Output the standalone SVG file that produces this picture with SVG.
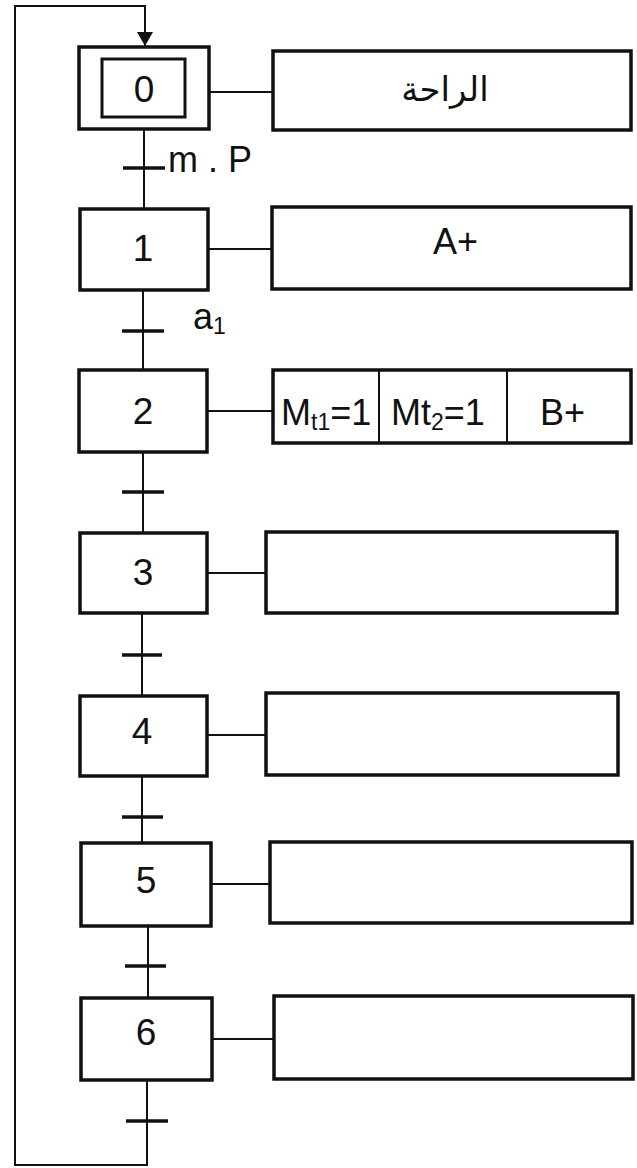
<svg xmlns="http://www.w3.org/2000/svg" width="637" height="1168" viewBox="0 0 637 1168">
<style>
.step{fill:#fff;stroke:#111;stroke-width:3.5}
.act{fill:#fff;stroke:#111;stroke-width:3.5}
.ln{fill:none;stroke:#111;stroke-width:2}
.tr{stroke:#111;stroke-width:3.5}
.num{font-family:"Liberation Sans",Arial,sans-serif;font-size:37px;fill:#111;text-anchor:middle}
.lbl{font-family:"Liberation Sans",Arial,sans-serif;font-size:36px;fill:#111}
.ar{font-family:"DejaVu Sans",sans-serif;font-size:34px;fill:#111;text-anchor:middle}
</style>
<defs>
<marker id="arr" viewBox="0 0 14 16" refX="14" refY="8" markerWidth="14" markerHeight="16" markerUnits="userSpaceOnUse" orient="auto">
<path d="M0,0 L14,8 L0,16 Z" fill="#111"/>
</marker>
</defs>
<rect width="637" height="1168" fill="#fff"/>
<g id="connectors">
<path class="ln" d="M147,1080 V1165 H15 V6 H145 V46" marker-end="url(#arr)"/>
<line class="ln" x1="144" y1="129" x2="144" y2="209"/>
<line class="ln" x1="143" y1="290" x2="143" y2="370"/>
<line class="ln" x1="143" y1="452" x2="143" y2="533"/>
<line class="ln" x1="142" y1="613" x2="142" y2="696"/>
<line class="ln" x1="142" y1="776" x2="142" y2="843"/>
<line class="ln" x1="148" y1="926" x2="148" y2="998"/>
<line class="ln" x1="209" y1="92" x2="273" y2="92"/>
<line class="ln" x1="208" y1="249" x2="272" y2="249"/>
<line class="ln" x1="207" y1="411" x2="273" y2="411"/>
<line class="ln" x1="207" y1="573" x2="266" y2="573"/>
<line class="ln" x1="207" y1="735" x2="266" y2="735"/>
<line class="ln" x1="211" y1="884" x2="270" y2="884"/>
<line class="ln" x1="212" y1="1039" x2="274" y2="1039"/>
</g>
<g id="transitions">
<line class="tr" x1="123" y1="168" x2="165" y2="168"/>
<text class="lbl" x="168" y="172">m . P</text>
<line class="tr" x1="122" y1="331" x2="164" y2="331"/>
<text class="lbl" x="193" y="329">a<tspan font-size="23" dy="5">1</tspan></text>
<line class="tr" x1="122" y1="492" x2="164" y2="492"/>
<line class="tr" x1="122" y1="655" x2="162" y2="655"/>
<line class="tr" x1="122" y1="817" x2="163" y2="817"/>
<line class="tr" x1="125" y1="966" x2="166" y2="966"/>
<line class="tr" x1="126" y1="1121" x2="168" y2="1121"/>
</g>
<g id="step0">
<rect class="step" x="79" y="47" width="130" height="82"/>
<rect class="step" x="102" y="59" width="83" height="58" style="stroke-width:3"/>
<text class="num" x="144" y="102">0</text>
</g>
<g id="step1">
<rect class="step" x="80" y="209" width="128" height="81"/>
<text class="num" x="143" y="261">1</text>
</g>
<g id="step2">
<rect class="step" x="79" y="370" width="128" height="82"/>
<text class="num" x="143" y="424">2</text>
</g>
<g id="step3">
<rect class="step" x="80" y="533" width="127" height="80"/>
<text class="num" x="143" y="585">3</text>
</g>
<g id="step4">
<rect class="step" x="80" y="696" width="127" height="80"/>
<text class="num" x="142" y="744">4</text>
</g>
<g id="step5">
<rect class="step" x="81" y="843" width="130" height="83"/>
<text class="num" x="146" y="893">5</text>
</g>
<g id="step6">
<rect class="step" x="81" y="998" width="131" height="82"/>
<text class="num" x="146" y="1045">6</text>
</g>
<g id="action0">
<rect class="act" x="273" y="51" width="358" height="79"/>
<text class="ar" x="445" y="101">الراحة</text>
</g>
<g id="action1">
<rect class="act" x="272" y="207" width="359" height="82"/>
<text class="lbl" x="433" y="254">A+</text>
</g>
<g id="action2">
<rect class="act" x="273" y="370" width="358" height="73"/>
<line class="ln" x1="379" y1="370" x2="379" y2="443"/>
<line class="ln" x1="507" y1="370" x2="507" y2="443"/>
<text class="lbl" x="281" y="425">M<tspan font-size="23" dy="5">t1</tspan><tspan dy="-5">=1</tspan></text>
<text class="lbl" x="391" y="425">Mt<tspan font-size="23" dy="5">2</tspan><tspan dy="-5">=1</tspan></text>
<text class="lbl" x="540" y="425">B+</text>
</g>
<g id="action3">
<rect class="act" x="266" y="532" width="351" height="81"/>
</g>
<g id="action4">
<rect class="act" x="266" y="693" width="352" height="82"/>
</g>
<g id="action5">
<rect class="act" x="270" y="842" width="362" height="81"/>
</g>
<g id="action6">
<rect class="act" x="274" y="996" width="359" height="83"/>
</g>
</svg>
